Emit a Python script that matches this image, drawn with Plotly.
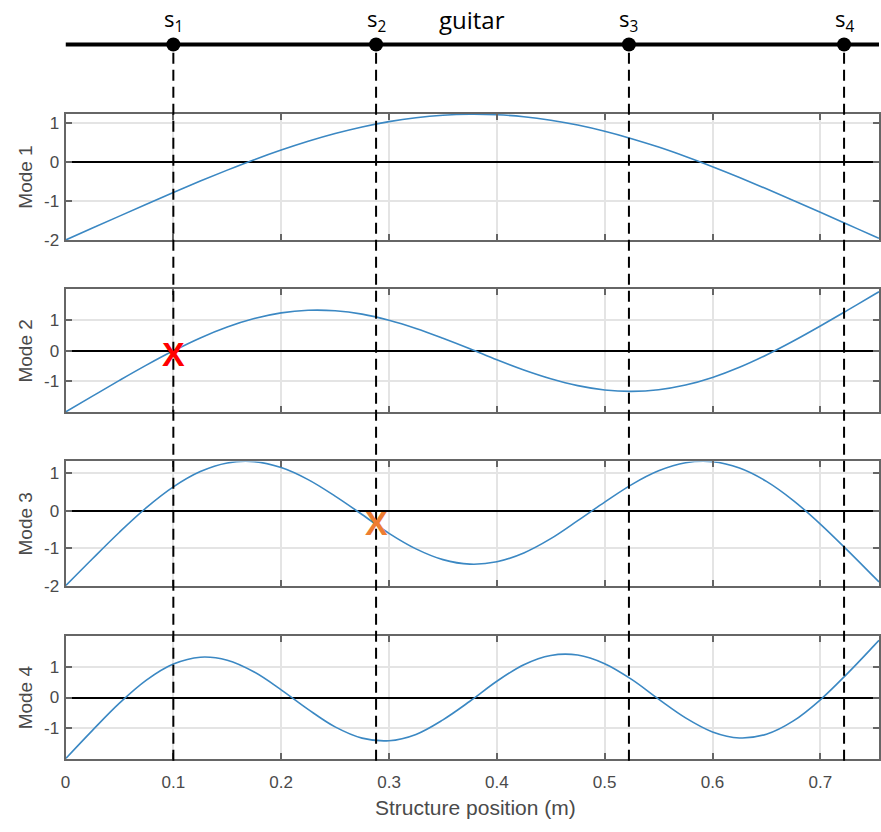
import plotly.graph_objects as go

# ---------------- data ----------------
X_POS = [0.0, 0.025, 0.05, 0.075, 0.1, 0.125, 0.15, 0.175, 0.2, 0.225, 0.25,
         0.275, 0.3, 0.325, 0.35, 0.375, 0.4, 0.425, 0.45, 0.475, 0.5, 0.525,
         0.55, 0.575, 0.6, 0.625, 0.65, 0.675, 0.7, 0.725, 0.75, 0.7544]

MODE1 = [-2.0, -1.694, -1.388, -1.084, -0.785, -0.493, -0.213, 0.053, 0.299,
         0.524, 0.722, 0.890, 1.026, 1.126, 1.190, 1.215, 1.202, 1.151, 1.062,
         0.937, 0.779, 0.590, 0.375, 0.134, -0.127, -0.402, -0.691, -0.988,
         -1.290, -1.596, -1.902, -1.956]

MODE2 = [-2.0, -1.482, -0.969, -0.471, -0.003, 0.419, 0.774, 1.050, 1.236,
         1.321, 1.306, 1.196, 0.997, 0.729, 0.408, 0.064, -0.298, -0.630,
         -0.916, -1.139, -1.281, -1.327, -1.274, -1.120, -0.872, -0.540,
         -0.138, 0.317, 0.807, 1.317, 1.834, 1.925]

MODE3 = [-2.0, -1.276, -0.569, 0.085, 0.639, 1.048, 1.278, 1.312, 1.154,
         0.833, 0.393, -0.096, -0.599, -1.013, -1.300, -1.420, -1.358, -1.121,
         -0.741, -0.261, 0.234, 0.701, 1.068, 1.282, 1.310, 1.142, 0.787,
         0.275, -0.352, -1.047, -1.768, -1.896]

MODE4 = [-2.0, -1.071, -0.185, 0.567, 1.092, 1.317, 1.217, 0.832, 0.252,
         -0.387, -0.959, -1.325, -1.411, -1.204, -0.728, -0.122, 0.531, 1.072,
         1.374, 1.386, 1.103, 0.590, -0.053, -0.663, -1.122, -1.320, -1.199,
         -0.764, -0.074, 0.780, 1.702, 1.866]

MODES = [MODE1, MODE2, MODE3, MODE4]
MODE_NAMES = ["Mode 1", "Mode 2", "Mode 3", "Mode 4"]
Y_RANGES = [[-2, 1.23], [-2, 2], [-2, 1.32], [-2, 2]]
Y_TICKS = [[-2, -1, 0, 1], [-1, 0, 1], [-2, -1, 0, 1], [-1, 0, 1]]
Y_TICK_TEXT = [["-2", "-1", "0", "1"], ["-1", "0", "1"], ["-2", "-1", "0", "1"], ["-1", "0", "1"]]
X_TICKS = [0, 0.1, 0.2, 0.3, 0.4, 0.5, 0.6, 0.7]
X_TICK_TEXT = ["0", "0.1", "0.2", "0.3", "0.4", "0.5", "0.6", "0.7"]
X_MAX = 0.7544

S_POS = [0.1, 0.288, 0.5225, 0.722]
S_LABELS = ["s<sub>1</sub>", "s<sub>2</sub>", "s<sub>3</sub>", "s<sub>4</sub>"]

# marker crosses: (mode index, x, y, colour)
CROSSES = [(2, 0.1, -0.1, "#ff0000"), (3, 0.288, -0.32, "#ed7d31")]

# ---------------- layout helpers ----------------
W, H = 881, 832
def py(p):
    return 1 - p / H

X_DOMAIN = [61 / W, 1.0]
Y_DOMAINS = [[py(243), py(115)], [py(417), py(293)], [py(593), py(467)], [py(768), py(644)]]

TICK_FONT = dict(family="Liberation Sans, Arial", size=17, color="#4a4a4a")
LINE_BLUE = "#3b88c3"

fig = go.Figure()

for i, (vals, name) in enumerate(zip(MODES, MODE_NAMES), start=1):
    sfx = "" if i == 1 else str(i)
    fig.add_trace(go.Scatter(x=X_POS, y=vals, mode="lines",
                             line=dict(color=LINE_BLUE, width=1.6, shape="spline", smoothing=1.0),
                             xaxis="x" + sfx, yaxis="y" + sfx, showlegend=False,
                             hoverinfo="skip"))

# top "guitar" string
fig.add_trace(go.Scatter(x=[0, X_MAX], y=[0.5, 0.5], mode="lines",
                         line=dict(color="black", width=4),
                         xaxis="x5", yaxis="y5", showlegend=False, hoverinfo="skip"))
fig.add_trace(go.Scatter(x=S_POS, y=[0.5] * len(S_POS), mode="markers",
                         marker=dict(color="black", size=14),
                         xaxis="x5", yaxis="y5", showlegend=False, hoverinfo="skip"))

layout = dict(width=W, height=H, margin=dict(l=0, r=0, t=0, b=0),
              paper_bgcolor="white", plot_bgcolor="white",
              font=dict(family="Liberation Sans, Arial", color="#4a4a4a"),
              showlegend=False)

for i in range(1, 5):
    sfx = "" if i == 1 else str(i)
    layout["xaxis" + sfx] = dict(
        domain=X_DOMAIN, range=[0, X_MAX], anchor="y" + sfx,
        tickvals=X_TICKS, ticktext=X_TICK_TEXT, showticklabels=(i == 4), tickfont=TICK_FONT,
        ticks="inside", ticklen=6, tickwidth=2, tickcolor="#666666",
        showgrid=True, gridcolor="#e4e4e4", gridwidth=1.5,
        showline=True, linecolor="#666666", linewidth=2, mirror="allticks",
        zeroline=False, ticklabelstandoff=7, fixedrange=True)
    layout["yaxis" + sfx] = dict(
        domain=Y_DOMAINS[i - 1], range=Y_RANGES[i - 1], anchor="x" + sfx,
        tickvals=Y_TICKS[i - 1], ticktext=Y_TICK_TEXT[i - 1], tickfont=TICK_FONT,
        ticks="inside", ticklen=6, tickwidth=2, tickcolor="#666666",
        showgrid=True, gridcolor="#e4e4e4", gridwidth=1.5,
        showline=True, linecolor="#666666", linewidth=2, mirror="allticks",
        zeroline=True, zerolinecolor="black", zerolinewidth=1.5,
        ticklabelstandoff=1, fixedrange=True)

layout["xaxis5"] = dict(domain=X_DOMAIN, range=[0, X_MAX], anchor="y5", visible=False)
layout["yaxis5"] = dict(domain=[py(70), py(20)], range=[0, 1], anchor="x5", visible=False)

shapes = []
for s in S_POS:
    shapes.append(dict(type="line", xref="x4", yref="paper", x0=s, x1=s,
                       y0=py(770), y1=py(45),
                       line=dict(color="black", width=2, dash="11px,6px"),
                       layer="above"))
layout["shapes"] = shapes

ann = []
for s, lab in zip(S_POS, S_LABELS):
    ann.append(dict(x=s, y=py(20), xref="x5", yref="paper", text=lab,
                    showarrow=False, xanchor="center", yanchor="middle",
                    font=dict(family="Open Sans, DejaVu Sans", size=22, color="black")))
ann.append(dict(x=471 / W, y=py(20), xref="paper", yref="paper", text="guitar",
                showarrow=False, xanchor="center", yanchor="middle",
                font=dict(family="Open Sans, DejaVu Sans", size=24, color="black")))
for i, name in enumerate(MODE_NAMES):
    d = Y_DOMAINS[i]
    ann.append(dict(x=21 / W, y=(d[0] + d[1]) / 2, xref="paper", yref="paper",
                    text=name, textangle=-90, showarrow=False,
                    xanchor="center", yanchor="middle",
                    font=dict(family="Liberation Sans, Arial", size=19, color="#4a4a4a")))
ann.append(dict(x=474 / W, y=py(817), xref="paper", yref="paper",
                text="Structure position (m)", showarrow=False,
                xanchor="center", yanchor="middle",
                font=dict(family="Liberation Sans, Arial", size=21, color="#4a4a4a")))
for mi, cx, cy, col in CROSSES:
    ann.append(dict(x=cx, y=cy, xref="x%d" % mi, yref="y%d" % mi, text="<b>X</b>",
                    showarrow=False, xanchor="center", yanchor="middle",
                    font=dict(family="Liberation Sans, Arial", size=34, color=col)))
layout["annotations"] = ann

fig.update_layout(**layout)
fig.write_html("out.html")
